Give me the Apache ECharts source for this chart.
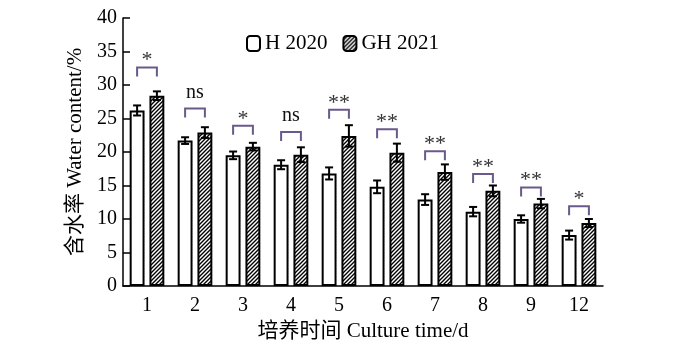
<!DOCTYPE html>
<html><head><meta charset="utf-8">
<script src="https://cdn.jsdelivr.net/npm/echarts@6/dist/echarts.min.js"></script>
<style>html,body{margin:0;padding:0;background:#fff}#c{width:700px;height:344px}</style>
</head><body><div id="c"></div>
<script>
const categories = ['1','2','3','4','5','6','7','8','9','12'];
const seriesNames = ['H 2020','GH 2021'];
const h2020 = [26.2,21.7,19.5,18.1,16.8,14.8,12.9,11.1,10.0,7.6];
const h2020Err = [0.75,0.5,0.57,0.67,0.9,0.95,0.8,0.7,0.55,0.67];
const gh2021 = [28.4,22.9,20.8,19.6,22.4,19.9,17.0,14.2,12.3,9.4];
const gh2021Err = [0.65,0.8,0.57,1.1,1.6,1.35,1.15,0.8,0.7,0.6];
const sigLabels = ['*','ns','*','ns','**','**','**','**','**','*'];
const sigLevel = [32.6,26.5,23.9,23.0,26.3,23.4,20.1,16.7,14.7,11.9];
const yMin = 0, yMax = 40, yStep = 5;

const FONT = "'Liberation Serif','Noto Sans CJK SC',serif";
const BAR_W = 0.31, BAR_GAP = 0.33;

function hatch() {
  const s = 4, cv = document.createElement('canvas');
  cv.width = s; cv.height = s;
  const ctx = cv.getContext('2d');
  ctx.fillStyle = '#fff'; ctx.fillRect(0,0,s,s);
  ctx.strokeStyle = '#000'; ctx.lineWidth = 1.4;
  ctx.beginPath();
  ctx.moveTo(-1, s+1); ctx.lineTo(s+1, -1);
  ctx.moveTo(-1, 1); ctx.lineTo(1, -1);
  ctx.moveTo(s-1, s+1); ctx.lineTo(s+1, s-1);
  ctx.stroke();
  return cv;
}
const pattern = {image: hatch(), repeat: 'repeat'};

function offsetFor(band, idx) {
  const w = band * BAR_W, g = w * BAR_GAP;
  return (idx === 0 ? -1 : 1) * (w + g) / 2;
}

function errRender(idx) {
  return function (params, api) {
    const i = api.value(0), v = api.value(1), e = api.value(2);
    const band = api.size([1, 0])[0];
    const x = api.coord([i, v])[0] + offsetFor(band, idx);
    const yt = api.coord([i, v + e])[1], yb = api.coord([i, v - e])[1];
    const cap = 4;
    const st = {stroke: '#000', lineWidth: 2};
    return {type: 'group', children: [
      {type: 'line', shape: {x1: x, y1: yt, x2: x, y2: yb}, style: st},
      {type: 'line', shape: {x1: x - cap, y1: yt, x2: x + cap, y2: yt}, style: st},
      {type: 'line', shape: {x1: x - cap, y1: yb, x2: x + cap, y2: yb}, style: st}
    ]};
  };
}

function sigRender(params, api) {
  const i = api.value(0), lv = api.value(1);
  const lab = sigLabels[params.dataIndex];
  const band = api.size([1, 0])[0];
  const c = api.coord([i, lv]);
  const x1 = c[0] + offsetFor(band, 0), x2 = c[0] + offsetFor(band, 1);
  const y = c[1], tk = 9;
  const isStar = lab.indexOf('*') >= 0;
  return {type: 'group', children: [
    {type: 'polyline', shape: {points: [[x1, y + tk], [x1, y], [x2, y], [x2, y + tk]]},
      style: {stroke: '#6a5a8c', lineWidth: 2, fill: null}},
    {type: 'text', x: (x1 + x2) / 2, y: isStar ? y + 4 : y - 6,
      style: {text: lab, align: 'center', verticalAlign: 'bottom',
        font: (isStar ? '22px ' : '20px ') + FONT, fill: isStar ? '#333' : '#111'}}
  ]};
}

const chart = echarts.init(document.getElementById('c'));
chart.setOption({
  animation: false,
  backgroundColor: '#fff',
  textStyle: {fontFamily: FONT, color: '#000'},
  grid: {left: 123, right: 97, top: 18, bottom: 58, outerBoundsMode: 'none', containLabel: false},
  legend: {
    top: 28, left: 241, itemWidth: 13, itemHeight: 15, itemGap: 15,
    textStyle: {fontSize: 21, fontFamily: FONT, color: '#000'},
    data: seriesNames
  },
  xAxis: {
    type: 'category', data: categories,
    name: '培养时间 Culture time/d', nameLocation: 'middle', nameGap: 33,
    nameTextStyle: {fontSize: 21, fontFamily: FONT, color: '#000'},
    axisLine: {lineStyle: {color: '#000', width: 1.5}},
    axisTick: {inside: true, length: 8, lineStyle: {color: '#000', width: 1.5}},
    axisLabel: {fontSize: 20, color: '#000', margin: 10, fontFamily: FONT}
  },
  yAxis: {
    type: 'value', min: yMin, max: yMax, interval: yStep,
    name: '含水率 Water content/%', nameLocation: 'middle', nameGap: 36, nameRotate: 90,
    nameTextStyle: {fontSize: 21, fontFamily: FONT, color: '#000'},
    axisLine: {show: true, lineStyle: {color: '#000', width: 1.5}},
    axisTick: {show: true, inside: true, length: 7, lineStyle: {color: '#000', width: 1.5}},
    axisLabel: {fontSize: 20, color: '#000', margin: 6, fontFamily: FONT},
    splitLine: {show: false}
  },
  series: [
    {name: seriesNames[0], type: 'bar', data: h2020, barWidth: (BAR_W*100)+'%', barGap: (BAR_GAP*100)+'%',
      itemStyle: {color: '#fff', borderColor: '#000', borderWidth: 2}},
    {name: seriesNames[1], type: 'bar', data: gh2021, barWidth: (BAR_W*100)+'%', barGap: (BAR_GAP*100)+'%',
      itemStyle: {color: pattern, borderColor: '#000', borderWidth: 2}},
    {type: 'custom', renderItem: errRender(0), data: h2020.map((v, i) => [i, v, h2020Err[i]]), z: 5},
    {type: 'custom', renderItem: errRender(1), data: gh2021.map((v, i) => [i, v, gh2021Err[i]]), z: 5},
    {type: 'custom', renderItem: sigRender, data: sigLevel.map((v, i) => [i, v]), z: 6}
  ]
});
</script></body></html>
